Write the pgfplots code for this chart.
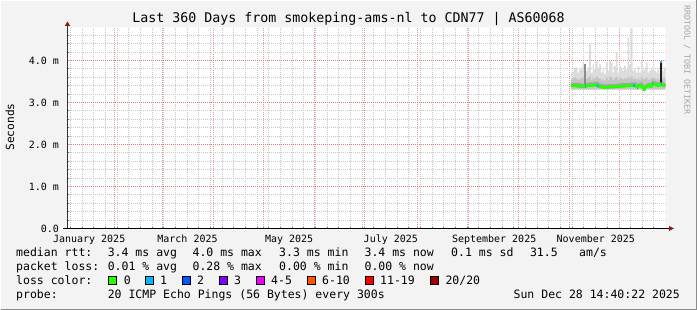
\documentclass[border=0pt]{standalone}
\usepackage{fontspec}
\setmainfont{DejaVu Sans Mono}
\usepackage{pgfplots}
\usepackage{pgfplotstable}
\pgfplotsset{compat=1.18}
\usepgfplotslibrary{fillbetween}
\definecolor{bg}{HTML}{F3F3F3}
\definecolor{majred}{HTML}{F09090}
\definecolor{majredy}{HTML}{E87878}
\definecolor{mingray}{HTML}{C8C8C8}
\definecolor{arrowred}{HTML}{8B1A1A}
\definecolor{smokeA}{HTML}{DCDCDC}
\definecolor{smokeB}{HTML}{C4C4C4}
\definecolor{smokeC}{HTML}{A4A4A4}
\definecolor{spikeA}{HTML}{8C8C8C}
\definecolor{lc0}{HTML}{26FF00}
\definecolor{lc1}{HTML}{00B8FF}
\definecolor{lc2}{HTML}{0059FF}
\definecolor{lc3}{HTML}{7E00FF}
\definecolor{lc4}{HTML}{EE00FF}
\definecolor{lc6}{HTML}{FF5500}
\definecolor{lc11}{HTML}{FF0000}
\definecolor{lc20}{HTML}{A00000}

\pgfplotstableread{
d     max  hi   lo   lotwo dlo  dhi  med
304.6 3.71 3.55 3.30 3.32 3.37 3.47 3.40
305.6 3.74 3.58 3.30 3.32 3.37 3.47 3.40
306.6 3.83 3.60 3.30 3.32 3.37 3.47 3.40
307.6 3.83 3.57 3.30 3.32 3.37 3.47 3.40
308.6 3.71 3.54 3.30 3.32 3.36 3.46 3.39
309.6 3.79 3.56 3.30 3.32 3.36 3.46 3.39
310.6 3.83 3.58 3.30 3.32 3.35 3.45 3.38
311.6 3.95 3.60 3.30 3.32 3.35 3.45 3.38
312.6 3.79 3.55 3.30 3.32 3.36 3.46 3.39
313.6 3.75 3.56 3.30 3.32 3.36 3.46 3.39
314.6 3.83 3.59 3.30 3.32 3.37 3.47 3.40
315.6 4.39 3.62 3.30 3.32 3.38 3.48 3.41
316.6 3.71 3.54 3.30 3.32 3.38 3.48 3.41
317.6 3.91 3.60 3.30 3.32 3.38 3.48 3.41
318.6 3.79 3.57 3.30 3.32 3.39 3.49 3.42
319.6 3.99 3.62 3.30 3.32 3.39 3.49 3.42
320.6 3.83 3.58 3.30 3.32 3.38 3.48 3.41
321.6 3.91 3.57 3.30 3.32 3.35 3.45 3.38
322.6 3.71 3.52 3.30 3.32 3.34 3.44 3.37
323.6 3.79 3.55 3.30 3.32 3.34 3.44 3.37
324.6 3.68 3.52 3.30 3.32 3.33 3.43 3.36
325.6 3.95 3.60 3.30 3.32 3.33 3.43 3.36
326.6 3.75 3.54 3.30 3.32 3.33 3.43 3.36
327.6 3.99 3.62 3.30 3.32 3.34 3.44 3.37
328.6 3.95 3.60 3.30 3.32 3.34 3.44 3.37
329.6 3.71 3.53 3.30 3.32 3.34 3.44 3.37
330.6 3.87 3.58 3.30 3.32 3.34 3.44 3.37
331.6 4.20 3.61 3.30 3.32 3.35 3.45 3.38
332.6 3.71 3.54 3.30 3.32 3.35 3.45 3.38
333.6 3.87 3.59 3.30 3.32 3.35 3.45 3.38
334.6 3.80 3.57 3.30 3.32 3.36 3.46 3.39
335.6 3.75 3.55 3.30 3.32 3.36 3.46 3.39
336.6 3.87 3.58 3.30 3.32 3.36 3.46 3.39
337.6 3.79 3.56 3.30 3.32 3.37 3.47 3.40
338.6 4.55 3.62 3.30 3.32 3.37 3.47 3.40
339.6 3.90 3.58 3.30 3.32 3.37 3.47 3.40
340.6 4.76 3.63 3.30 3.32 3.38 3.48 3.41
341.6 3.75 3.55 3.30 3.32 3.38 3.48 3.41
342.6 3.79 3.57 3.30 3.32 3.38 3.48 3.41
343.6 3.71 3.54 3.30 3.32 3.36 3.46 3.39
344.6 3.87 3.58 3.30 3.32 3.34 3.44 3.37
345.6 3.71 3.54 3.30 3.32 3.37 3.47 3.40
346.6 3.99 3.61 3.30 3.32 3.38 3.48 3.41
347.6 3.75 3.55 3.30 3.32 3.33 3.43 3.36
348.6 3.79 3.56 3.28 3.30 3.29 3.39 3.32
349.6 3.95 3.60 3.30 3.32 3.35 3.45 3.38
350.6 3.71 3.54 3.30 3.32 3.37 3.47 3.40
351.6 3.75 3.55 3.30 3.32 3.36 3.46 3.39
352.6 3.79 3.57 3.30 3.32 3.35 3.45 3.38
353.6 3.87 3.60 3.30 3.32 3.42 3.52 3.45
354.6 3.75 3.57 3.30 3.32 3.40 3.50 3.43
355.6 3.71 3.55 3.30 3.32 3.39 3.49 3.42
356.6 3.79 3.57 3.30 3.32 3.38 3.48 3.41
357.6 3.68 3.53 3.30 3.32 3.38 3.48 3.41
358.6 3.99 3.61 3.30 3.32 3.41 3.51 3.44
359.6 3.75 3.56 3.30 3.32 3.38 3.48 3.41
360.6 3.83 3.58 3.30 3.32 3.37 3.47 3.40
361.4 3.71 3.55 3.30 3.32 3.37 3.47 3.40
}\smoke

\begin{document}
\begin{tikzpicture}[x=1pt,y=1pt]
\fill[bg, even odd rule] (0,0) rectangle (697,310) (67.5,81.5) rectangle (665.5,282.5);
\draw[white, line width=1pt] (0.5,0.5) -- (0.5,309.5) -- (696.5,309.5);
\draw[black!45, line width=1pt] (0.5,0.5) -- (696.5,0.5) -- (696.5,309.5);

\begin{axis}[
  at={(67.5pt,81.5pt)}, anchor=south west, scale only axis,
  width=598pt, height=201pt,
  xmin=2.6, xmax=361.4, ymin=0, ymax=4.785714,
  axis x line*=bottom, axis y line*=left,
  axis line style={draw=none},
  axis background/.style={fill=white},
  tick align=center,
  major tick length=4pt, minor tick length=3pt,
  every major tick/.append style={draw=majred, line width=1pt},
  every minor tick/.append style={draw=black!55, line width=0.6pt},
  xtick={30.8,59.6,90.2,120.2,150.8,180.8,212.6,243.2,273.2,303.8,333.8},
  xticklabels={},
  minor xtick={4.4,11.6,18.2,25.4,32.6,39.2,46.4,53.6,60.2,67.4,74.6,81.2,88.4,95.6,102.2,109.4,116.6,123.2,130.4,137.6,144.2,151.4,158.6,165.2,172.4,179.6,186.2,193.4,200.6,207.2,214.4,221.6,228.2,235.4,242.6,249.2,256.4,263.6,270.2,277.4,284.6,291.2,298.4,305.6,312.2,319.4,326.6,340.4,347.6,354.2},
  extra x ticks={15.6,74.6,135.6,196.6,258.6,319.6},
  extra x tick labels={January 2025,March 2025,May 2025,July 2025,September 2025,November 2025},
  extra x tick style={grid=none, major tick length=0pt},
  xticklabel style={font=\fontsize{10}{12}\selectfont, anchor=base, yshift=-14pt},
  ytick={0,1,2,3,4},
  yticklabels={0.0,1.0 m,2.0 m,3.0 m,4.0 m},
  minor ytick={0.190476,0.404762,0.595238,0.809524,1.190476,1.404762,1.595238,1.809524,2.190476,2.404762,2.595238,2.809524,3.190476,3.404762,3.595238,3.809524,4.190476,4.404762,4.595238},
  yticklabel style={font=\fontsize{10}{12}\selectfont, anchor=east, xshift=-3pt},
  grid=both,
  major x grid style={draw=majred, dash pattern=on 1pt off 1pt, dash phase=0.5pt, line width=1pt},
  minor x grid style={draw=mingray, dash pattern=on 1pt off 1pt, dash phase=0.5pt, line width=1pt},
  major y grid style={draw=majredy, dash pattern=on 1pt off 1pt, dash phase=0.5pt, line width=1pt},
  minor y grid style={draw=mingray, dash pattern=on 1pt off 1pt, dash phase=0.5pt, line width=1pt},
]
\addplot[name path=mx, draw=none, const plot] table[x=d,y=max]{\smoke};
\addplot[name path=lo, draw=none] table[x=d,y=lo]{\smoke};
\addplot[fill=smokeA, draw=none] fill between[of=mx and lo];
\addplot[name path=hi, draw=none, const plot] table[x=d,y=hi]{\smoke};
\addplot[name path=lotwo, draw=none] table[x=d,y=lotwo]{\smoke};
\addplot[fill=smokeB, draw=none] fill between[of=hi and lotwo];
\addplot[name path=dhi, draw=none, const plot] table[x=d,y=dhi]{\smoke};
\addplot[name path=dlo, draw=none, const plot] table[x=d,y=dlo]{\smoke};
\addplot[fill=smokeC, draw=none] fill between[of=dhi and dlo];
% spikes
\addplot[draw=spikeA, line width=2pt] coordinates {(313.2,3.40) (313.2,3.91)};
\addplot[draw=black!88, line width=2pt] coordinates {(358.8,3.46) (358.8,3.99)};
\addplot[draw=black!85, line width=1.5pt] coordinates {(348.4,3.28) (348.4,3.33)};
\addplot[draw=black!85, line width=1.5pt] coordinates {(344.6,3.32) (344.6,3.35)};
% median
\addplot[draw=lc0, line width=3pt] table[x=d,y=med]{\smoke};
\addplot[draw=lc1, line width=3pt] coordinates {(312.8,3.39) (313.8,3.39)};
\addplot[draw=lc1, line width=3pt] coordinates {(320.2,3.41) (321.2,3.39)};
\addplot[draw=lc1, line width=3pt] coordinates {(342.0,3.41) (342.8,3.41)};
\addplot[draw=lc1, line width=3pt] coordinates {(353.2,3.46) (354.0,3.46)};
\addplot[draw=lc1, line width=3pt] coordinates {(358.4,3.44) (359.0,3.44)};
\addplot[draw=lc1, line width=2pt] coordinates {(358.8,3.93) (358.8,3.99)};
\end{axis}

% axes with arrows
\draw[black!80, line width=1pt] (67.5,81.5) -- (67.5,285);
\fill[arrowred] (64.8,284) -- (70.2,284) -- (67.5,288.5) -- cycle;
\draw[black, line width=1pt] (63,81.5) -- (670,81.5);
\fill[arrowred] (669,79) -- (669,84) -- (674,81.5) -- cycle;

% title and labels
\node[anchor=base, inner sep=0pt, font=\fontsize{13.3}{15}\selectfont] at (348.5,287.5) {Last 360 Days from smokeping-ams-nl to CDN77 | AS60068};
\node[rotate=90, inner sep=0pt, font=\fontsize{11.2}{13}\selectfont] at (10,183) {Seconds};
\node[rotate=-90, inner sep=0pt, text=black!35, font=\fontsize{8.3}{10}\selectfont] at (687,250) {RRDTOOL / TOBI OETIKER};

\begin{scope}[every node/.style={anchor=base west, inner sep=0pt, font=\fontsize{11.5}{13}\selectfont}]
\node at (16,53) {median rtt:};
\node at (107.6,53) {3.4 ms avg};
\node at (192.4,53) {4.0 ms max};
\node at (279,53) {3.3 ms min};
\node at (364.4,53) {3.4 ms now};
\node at (451,53) {0.1 ms sd};
\node at (529.8,53) {31.5};
\node at (579,53) {am/s};
\node at (16,39) {packet loss:};
\node at (107.6,39) {0.01 \% avg};
\node at (192.4,39) {0.28 \% max};
\node at (279,39) {0.00 \% min};
\node at (364.4,39) {0.00 \% now};
\node at (16,25) {loss color:};
\node at (123.6,25) {0};
\node at (160,25) {1};
\node at (197,25) {2};
\node at (234,25) {3};
\node at (271,25) {4-5};
\node at (322,25) {6-10};
\node at (380,25) {11-19};
\node at (445.3,25) {20/20};
\node at (16,11) {probe:};
\node at (107.6,11) {20 ICMP Echo Pings (56 Bytes) every 300s};
\node[anchor=base east] at (680,11) {Sun Dec 28 14:40:22 2025};
\end{scope}
\foreach \xx/\cc in {108/lc0,145.3/lc1,182/lc2,219/lc3,256.4/lc4,307.6/lc6,365.3/lc11,430/lc20}{
  \filldraw[fill=\cc, draw=black, line width=0.8pt] (\xx,25.4) rectangle ++(8.2,8.2);
}
\end{tikzpicture}
\end{document}
